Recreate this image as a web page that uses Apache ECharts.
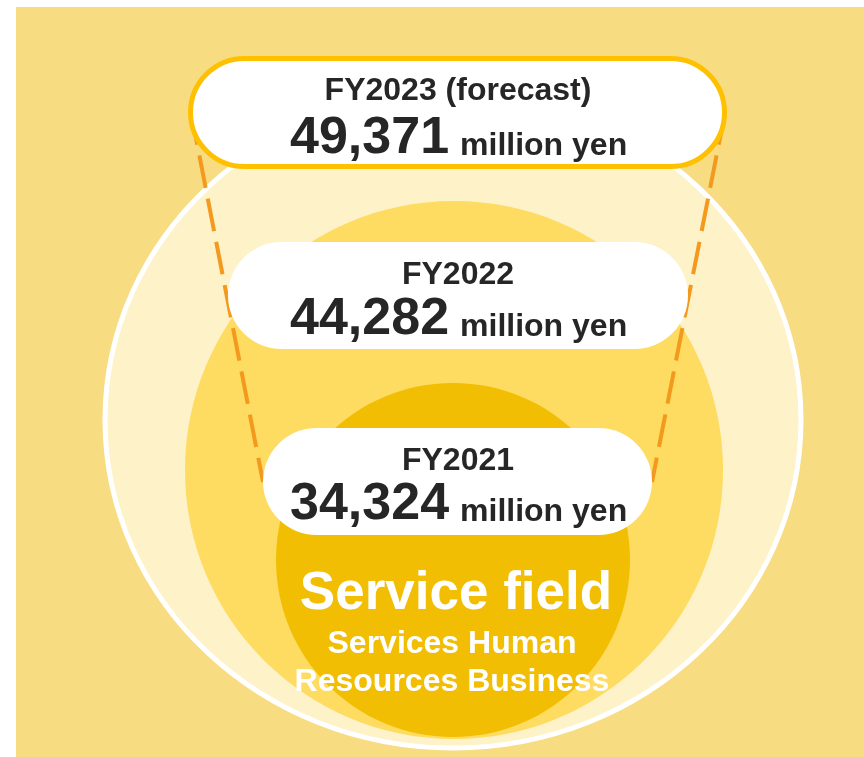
<!DOCTYPE html>
<html>
<head>
<meta charset="utf-8">
<script src="https://cdn.jsdelivr.net/npm/echarts@6/dist/echarts.min.js"></script>
<style>
html, body { margin: 0; padding: 0; background: #fff; }
#main { width: 864px; height: 757px; }
</style>
</head>
<body>
<div id="main"></div>
<script>
// ---- data ----
var years = ['FY2021', 'FY2022', 'FY2023 (forecast)'];
var sales = [34324, 44282, 49371];
var unitLabel = 'million yen';
var fieldTitle = 'Service field';
var fieldLines = ['Services Human', 'Resources Business'];

// ---- layout (in the 864x757 picture space) ----
var W = 864, H = 757;
var FONT = '"Liberation Sans", Arial, sans-serif';
var panel = {x: 16, y: 7, w: 848, h: 750, fill: '#F7DC82'};
var rings = [ // outer -> inner
    {cx: 453, cy: 420, rx: 348, ry: 328, fill: '#FEF2C8', stroke: '#FFFFFF', lw: 5},
    {cx: 454, cy: 470, rx: 269, ry: 269, fill: '#FEDB61'},
    {cx: 453, cy: 560, rx: 177, ry: 177, fill: '#F1BE04'}
];
var pills = [ // same order as years
    {x: 263, y: 428, w: 389, h: 107, titleY: 472, valueY: 523},
    {x: 228, y: 242, w: 460, h: 107, titleY: 286, valueY: 338},
    {x: 190.5, y: 58.5, w: 534, h: 108, titleY: 102, valueY: 157, stroke: '#FFC000', lw: 5}
];
var guides = [
    [[194, 128], [263, 482]],
    [[722, 128], [652, 482]]
];
var titleX = 458, valueX = 290;

// middle baseline -> alphabetic baseline offset for Arial-like fonts
function mid(baseline, fs) { return baseline - 0.3465 * fs; }
var measureCtx = document.createElement('canvas').getContext('2d');
function textWidth(str, font) {
    measureCtx.font = font;
    return measureCtx.measureText(str).width;
}

var chart = echarts.init(document.getElementById('main'));

function txt(api, s, x, baseline, fs, align, color) {
    var p = api.coord([x, mid(baseline, fs)]);
    return {
        type: 'text',
        style: {
            text: s, x: p[0], y: p[1],
            fontSize: fs, fontWeight: 'bold', fontFamily: FONT,
            fill: color, align: align, verticalAlign: 'middle'
        }
    };
}

var option = {
    backgroundColor: '#ffffff',
    animation: false,
    grid: {left: 0, right: 0, top: 0, bottom: 0},
    xAxis: {type: 'value', min: 0, max: W, show: false},
    yAxis: {type: 'value', min: 0, max: H, inverse: true, show: false},
    series: [
        {
            // background panel + circles
            type: 'custom', silent: true,
            data: [[-1]].concat(rings.map(function (r, i) { return [i]; })),
            renderItem: function (params, api) {
                var i = api.value(0);
                if (i < 0) {
                    var a = api.coord([panel.x, panel.y]);
                    var s = api.size([panel.w, panel.h]);
                    return {type: 'rect', shape: {x: a[0], y: a[1], width: s[0], height: s[1]},
                        style: {fill: panel.fill}};
                }
                var c = rings[i];
                var p = api.coord([c.cx, c.cy]);
                var sz = api.size([c.rx, c.ry]);
                return {
                    type: 'ellipse',
                    shape: {cx: p[0], cy: p[1], rx: sz[0], ry: sz[1]},
                    style: {fill: c.fill, stroke: c.stroke || null, lineWidth: c.lw || 0}
                };
            }
        },
        {
            // dashed guide lines
            type: 'custom', silent: true,
            data: guides.map(function (g, i) { return [i]; }),
            renderItem: function (params, api) {
                var g = guides[api.value(0)];
                var a = api.coord(g[0]), b = api.coord(g[1]);
                return {
                    type: 'line',
                    shape: {x1: a[0], y1: a[1], x2: b[0], y2: b[1]},
                    style: {stroke: '#F39A1E', lineWidth: 4, lineDash: [33, 11], lineDashOffset: 16}
                };
            }
        },
        {
            // year pills with values
            type: 'custom', silent: true,
            data: sales.map(function (v, i) { return [i, v]; }),
            renderItem: function (params, api) {
                var i = api.value(0);
                var pl = pills[i];
                var a = api.coord([pl.x, pl.y]);
                var s = api.size([pl.w, pl.h]);
                var numStr = api.value(1).toLocaleString('en-US');
                var numW = textWidth(numStr, 'bold 52px ' + FONT);
                return {
                    type: 'group',
                    children: [
                        {type: 'rect', shape: {x: a[0], y: a[1], width: s[0], height: s[1], r: s[1] / 2},
                            style: {fill: '#FFFFFF', stroke: pl.stroke || null, lineWidth: pl.lw || 0}},
                        txt(api, years[i], titleX, pl.titleY, 32, 'center', '#262626'),
                        txt(api, numStr, valueX, pl.valueY, 52, 'left', '#262626'),
                        txt(api, unitLabel, valueX + numW + 11, pl.valueY, 32, 'left', '#262626')
                    ]
                };
            }
        },
        {
            // field caption in the inner circle
            type: 'custom', silent: true,
            data: [[0]],
            renderItem: function (params, api) {
                return {
                    type: 'group',
                    children: [
                        txt(api, fieldTitle, 456, 613, 53, 'center', '#FFFFFF'),
                        txt(api, fieldLines[0], 452, 655, 32, 'center', '#FFFFFF'),
                        txt(api, fieldLines[1], 452, 693, 32, 'center', '#FFFFFF')
                    ]
                };
            }
        }
    ]
};
chart.setOption(option);
</script>
</body>
</html>
